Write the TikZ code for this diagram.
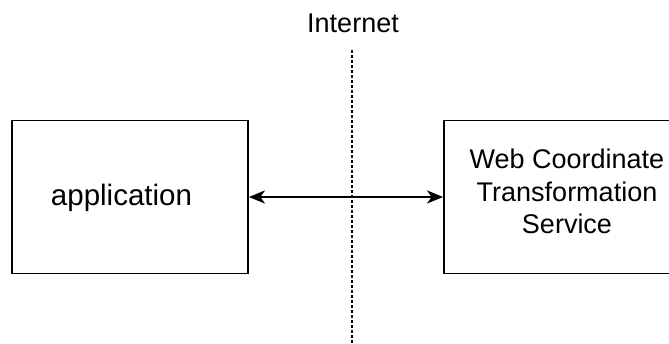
\documentclass[tikz,border=0pt]{standalone}
\usepackage{fontspec}
\setmainfont{Liberation Sans}
\usetikzlibrary{arrows.meta}
\begin{document}
\begin{tikzpicture}[x=1pt,y=-1pt,
  box/.style={draw, line width=1.8pt, rectangle, inner sep=0pt},
  txt/.style={font=\fontsize{27}{32.5}\selectfont, inner sep=0pt, align=center},
  bigtxt/.style={font=\fontsize{29.5}{35}\selectfont, inner sep=0pt},
  link/.style={line width=2pt, {Stealth[length=16pt,width=13pt,inset=4.5pt]}-{Stealth[length=16pt,width=13pt,inset=4.5pt]}},
  border/.style={line width=2pt, dash pattern=on 3pt off 2pt}]
\useasboundingbox (0,0) rectangle (669,344);
\clip (0,0) rectangle (669,344);
\node[box, minimum width=236pt, minimum height=153pt,
  label={[bigtxt, xshift=-8.5pt, yshift=-1pt]center:application}] (app) at (130,197) {};
\node[box, minimum width=246pt, minimum height=153pt] (wcts) at (567,197) {};
\node[txt] (wctstext) at (567,191.5) {Web Coordinate\\Transformation\\Service};
\node[txt, anchor=base] (internet) at (353,33) {Internet};
\coordinate (ltop) at (352,50);
\coordinate (lbot) at (352,344);
\draw[border] (ltop) -- (lbot);
\draw[link] (app.east) -- (wcts.west);
\end{tikzpicture}
\end{document}
